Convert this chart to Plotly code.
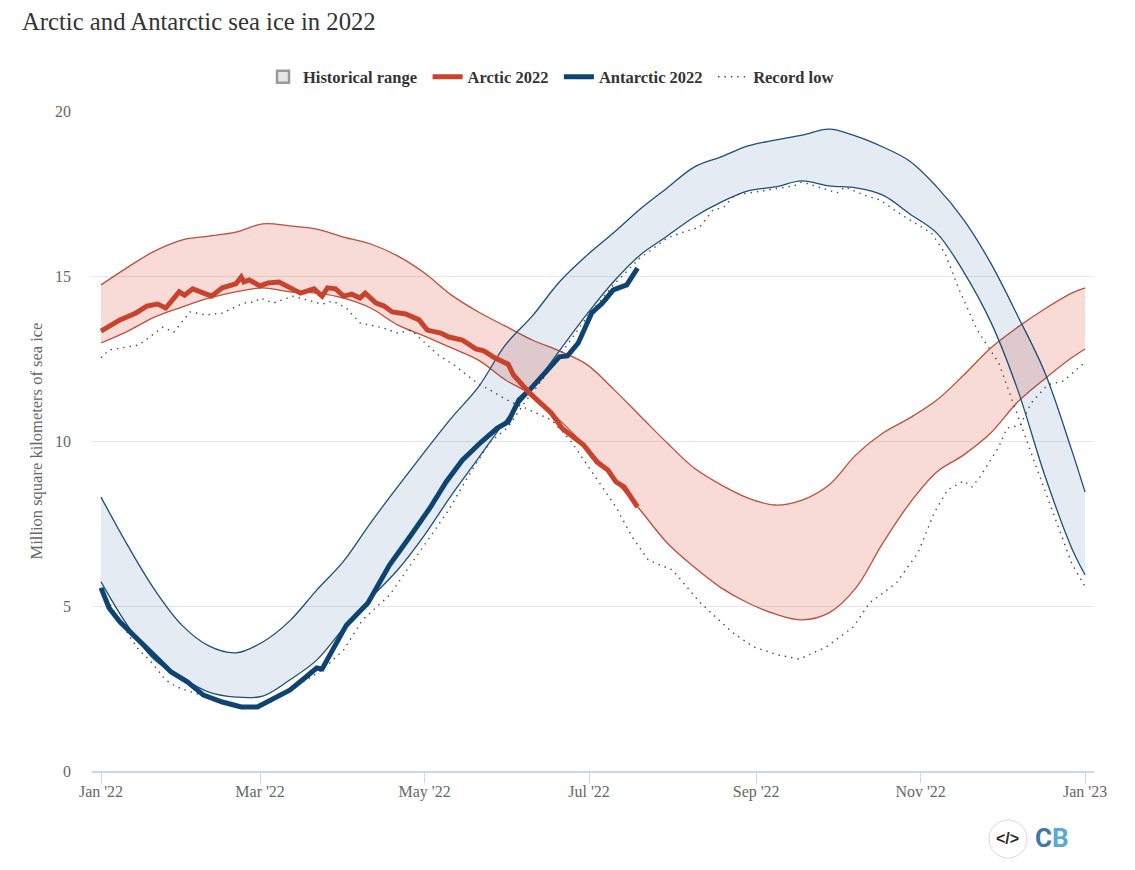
import pandas as pd
import plotly.graph_objects as go

START = pd.Timestamp("2022-01-01")

band_days = [0, 10, 20, 30, 40, 50, 60, 70, 80, 90, 100, 110, 120, 130, 140, 150, 160, 170, 180, 190,
             200, 210, 220, 230, 240, 250, 260, 270, 280, 290, 300, 310, 320, 330, 340, 350, 360, 365]

arctic_upper = [14.73, 15.27, 15.76, 16.09, 16.21, 16.33, 16.58, 16.52, 16.42, 16.18, 15.97, 15.61, 15.09,
                14.42, 13.91, 13.48, 13.06, 12.73, 12.33, 11.58, 10.76, 9.94, 9.18, 8.67, 8.27, 8.06,
                8.21, 8.67, 9.58, 10.24, 10.70, 11.24, 12.0, 12.82, 13.45, 14.0, 14.48, 14.64]
arctic_lower = [12.97, 13.33, 13.76, 14.06, 14.33, 14.52, 14.64, 14.52, 14.48, 14.33, 14.03, 13.52, 13.18,
                12.82, 12.45, 11.85, 11.39, 10.64, 9.82, 8.88, 7.91, 6.91, 6.18, 5.55, 5.09, 4.76,
                4.58, 4.79, 5.55, 6.91, 8.12, 9.06, 9.58, 10.24, 11.18, 11.88, 12.52, 12.79]
antarctic_upper = [8.30, 6.82, 5.48, 4.42, 3.79, 3.58, 3.91, 4.55, 5.48, 6.36, 7.52, 8.61, 9.67,
                   10.70, 11.64, 12.91, 13.79, 14.82, 15.61, 16.30, 17.03, 17.67, 18.30, 18.61, 18.94, 19.12,
                   19.27, 19.45, 19.24, 18.91, 18.48, 17.70, 16.70, 15.39, 13.79, 12.09, 9.73, 8.45]
antarctic_lower = [5.73, 4.39, 3.36, 2.82, 2.39, 2.24, 2.27, 2.76, 3.36, 4.33, 5.24, 6.09, 7.15,
                   8.36, 9.48, 10.61, 11.61, 12.73, 13.82, 14.82, 15.64, 16.21, 16.79, 17.24, 17.58, 17.70,
                   17.88, 17.73, 17.67, 17.45, 16.88, 16.30, 15.12, 13.61, 11.55, 8.97, 6.76, 5.94]

arctic22_days = [0, 7, 13, 17, 21, 24, 29, 31, 34, 39, 41, 45, 50, 52, 53, 55, 59, 62, 66, 74, 79, 82, 84, 87,
                 90, 93, 96, 98, 102, 105, 108, 113, 118, 121, 126, 129, 134, 139, 142, 146, 151, 153, 159,
                 167, 171, 179, 184, 188, 191, 194, 199]
arctic22 = [13.33, 13.67, 13.88, 14.09, 14.15, 14.03, 14.52, 14.42, 14.61, 14.48, 14.39, 14.64, 14.76, 14.97,
            14.82, 14.88, 14.70, 14.79, 14.82, 14.48, 14.61, 14.39, 14.64, 14.61, 14.39, 14.45, 14.33, 14.48,
            14.18, 14.09, 13.91, 13.85, 13.67, 13.36, 13.27, 13.15, 13.06, 12.79, 12.73, 12.52, 12.33, 12.0,
            11.45, 10.85, 10.39, 9.88, 9.36, 9.12, 8.76, 8.61, 8.0]

antarctic22_days = [0, 3, 7, 13, 21, 26, 32, 38, 45, 52, 58, 63, 70, 76, 80, 82, 91, 99, 107, 115, 122, 128,
                    134, 141, 147, 151, 155, 159, 167, 170, 173, 177, 182, 186, 190, 195, 199]
antarctic22 = [5.55, 4.94, 4.52, 4.03, 3.36, 3.0, 2.70, 2.30, 2.09, 1.94, 1.94, 2.15, 2.45, 2.85, 3.12, 3.09,
               4.42, 5.09, 6.24, 7.15, 7.97, 8.76, 9.42, 9.97, 10.39, 10.58, 11.24, 11.55, 12.24, 12.55, 12.58,
               12.97, 13.88, 14.18, 14.58, 14.73, 15.24]

arctic_low_days = [0, 3, 14, 23, 27, 33, 39, 45, 53, 57, 59, 64, 71, 78, 82, 86, 91, 96, 105, 110, 115, 125, 131,
                   139, 152, 159, 167, 174, 181, 191, 197, 203, 212, 222, 234, 242, 251, 259, 269, 279, 285, 295,
                   303, 309, 314, 320, 323, 326, 333, 336, 341, 345, 351, 357, 365]
arctic_low = [12.52, 12.76, 12.91, 13.45, 13.30, 13.91, 13.82, 13.88, 14.18, 14.21, 14.33, 14.18, 14.39, 14.24,
              14.15, 14.24, 14.03, 13.58, 13.42, 13.27, 13.36, 12.61, 12.30, 11.79, 11.18, 10.94, 10.64, 10.03,
              9.21, 8.0, 7.09, 6.39, 6.09, 5.12, 4.21, 3.76, 3.52, 3.39, 3.76, 4.36, 5.09, 5.70, 6.61, 7.82, 8.52,
              8.79, 8.61, 8.91, 9.82, 10.39, 10.48, 11.15, 11.70, 11.82, 12.39]

antarctic_low_days = [0, 7, 14, 18, 24, 28, 38, 52, 63, 76, 82, 90, 97, 107, 129, 136, 144, 151, 157, 165, 180, 190,
                      200, 210, 216, 222, 227, 231, 235, 250, 257, 260, 265, 273, 276, 283, 289, 297, 308, 313, 318,
                      325, 333, 339, 345, 350, 355, 360, 365]
antarctic_low = [5.55, 4.52, 3.67, 3.36, 2.76, 2.55, 2.27, 1.91, 2.09, 2.76, 3.06, 3.67, 4.58, 5.33, 7.91, 8.91, 9.94,
                 10.42, 11.15, 12.0, 13.73, 14.73, 15.55, 16.15, 16.33, 16.48, 17.0, 17.09, 17.45, 17.64, 17.73,
                 17.85, 17.73, 17.52, 17.70, 17.45, 17.30, 16.85, 16.30, 15.70, 14.64, 13.36, 12.36, 11.03, 9.64,
                 8.52, 7.39, 6.30, 5.58]

TITLE = "Arctic and Antarctic sea ice in 2022"
Y_TITLE = "Million square kilometers of sea ice"
RED, BLUE = "#c8432b", "#0f4470"
RED_THIN, BLUE_THIN = "#b9503c", "#1d4f74"
RED_FILL, BLUE_FILL = "rgba(220,70,50,0.2)", "rgba(15,70,140,0.11)"
SERIF = "Liberation Serif"
GAP = "\u00a0\u200a"


def dates(days):
    return [START + pd.Timedelta(days=d) for d in days]


fig = go.Figure()
fig.add_trace(go.Bar(x=[None], y=[None], name="Historical range" + GAP, legendrank=1,
                     marker=dict(color="#e6e6e6", line=dict(color="#999999", width=2.5))))


def band(lower, upper, line, fill):
    spline = dict(color=line, width=1.3, shape="spline", smoothing=1.0)
    fig.add_trace(go.Scatter(x=dates(band_days), y=lower, mode="lines", line=spline,
                             showlegend=False, hoverinfo="skip"))
    fig.add_trace(go.Scatter(x=dates(band_days), y=upper, mode="lines", line=spline, fill="tonexty",
                             fillcolor=fill, showlegend=False, hoverinfo="skip"))


band(arctic_lower, arctic_upper, RED_THIN, RED_FILL)
band(antarctic_lower, antarctic_upper, BLUE_THIN, BLUE_FILL)

dots = dict(color="#444444", width=1.4, dash="1.4px,5px")
fig.add_trace(go.Scatter(x=dates(arctic_low_days), y=arctic_low, mode="lines", line=dots,
                         name="Record low", legendrank=4))
fig.add_trace(go.Scatter(x=dates(antarctic_low_days), y=antarctic_low, mode="lines", line=dots,
                         showlegend=False))
fig.add_trace(go.Scatter(x=dates(antarctic22_days), y=antarctic22, mode="lines",
                         line=dict(color=BLUE, width=5), name="Antarctic 2022" + GAP, legendrank=3))
fig.add_trace(go.Scatter(x=dates(arctic22_days), y=arctic22, mode="lines",
                         line=dict(color=RED, width=5), name="Arctic 2022" + GAP, legendrank=2))

W, H = 1135, 870
L, R, T, B = 92, 1094, 111, 771


def px(x):
    return (x - L) / (R - L)


def py(y):
    return (B - y) / (B - T)


fig.update_layout(
    width=W, height=H, margin=dict(l=L, r=W - R, t=T, b=H - B, pad=0),
    paper_bgcolor="white", plot_bgcolor="white",
    font=dict(family=SERIF, size=16, color="#666666"),
    title=dict(text=TITLE, x=22 / W, xanchor="left", y=1 - 21 / H, yanchor="middle",
               font=dict(family=SERIF, size=24.7, color="#333333")),
    legend=dict(orientation="h", x=px(263), xanchor="left", y=py(77), yanchor="middle",
                font=dict(family=SERIF, size=16.5, color="#333333", weight="bold"),
                traceorder="normal", itemclick=False, itemdoubleclick=False),
    showlegend=True,
    xaxis=dict(type="date", range=[START + pd.Timedelta(days=-3.34), START + pd.Timedelta(days=368.3)],
               tick0="2022-01-01", dtick="M2", tickformat="%b '%y", ticks="outside", ticklen=10,
               ticklabelstandoff=-5,
               tickcolor="#ccd6eb", tickwidth=1, showline=True, linecolor="#ccd6eb", linewidth=1.5,
               showgrid=False, zeroline=False, tickfont=dict(size=16, color="#666666")),
    yaxis=dict(range=[0, 20], tick0=0, dtick=5, showgrid=True, gridcolor="#e6e6e6", gridwidth=1,
               zeroline=False, showline=False, ticks="", ticklabelstandoff=20,
               tickfont=dict(size=16, color="#666666"),
               title=dict(text=Y_TITLE, font=dict(size=16.5, color="#666666"), standoff=8)),
    shapes=[dict(type="circle", xref="paper", yref="paper", x0=px(989), x1=px(1027), y0=py(858), y1=py(820),
                 line=dict(color="#d8d8d8", width=1))],
    annotations=[
        dict(text="&lt;/&gt;", xref="paper", yref="paper", x=px(1007.5), y=py(838), xanchor="center",
             yanchor="middle", showarrow=False,
             font=dict(family="Liberation Sans", size=16, color="#2b2b2b", weight="bold")),
        dict(text="<b><span style='color:#3f77a5'>C</span><span style='color:#5ba8dc'>B</span></b>",
             xref="paper", yref="paper", x=px(1052), y=py(838), xanchor="center", yanchor="middle",
             showarrow=False, font=dict(family="Roboto", size=26)),
    ],
)

fig.write_html("out.html", post_script="document.body.style.margin='0';",
               config=dict(displayModeBar=False))
